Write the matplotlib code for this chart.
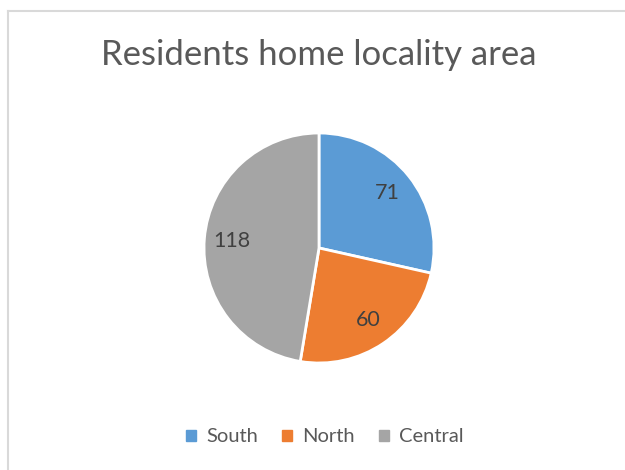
import numpy as np
import matplotlib.pyplot as plt
from matplotlib.lines import Line2D

regions = ['South', 'North', 'Central']
residents = [71, 60, 118]
colors = ['#5B9BD5', '#ED7D31', '#A5A5A5']

plt.rcParams['font.family'] = ['Lato', 'DejaVu Sans']

fig = plt.figure(figsize=(6.25, 4.7), dpi=100)
W, H = 625, 470

# chart frame (only left and top edges visible in the crop)
fig.add_artist(Line2D([8 / W, 8 / W], [0, 1 - 11 / H], color='#D9D9D9', lw=1.5))
fig.add_artist(Line2D([8 / W, 1], [1 - 11 / H, 1 - 11 / H], color='#D9D9D9', lw=1.5))

# pie: centre ~ (319, 248), radius ~ 115 px
cx, cy, r = 319, 248, 115
ax = fig.add_axes([(cx - r) / W, 1 - (cy + r) / H, 2 * r / W, 2 * r / H])
wedges, texts = ax.pie(residents, colors=colors, startangle=90, counterclock=False,
                       wedgeprops=dict(edgecolor='white', linewidth=2))
for w, v in zip(wedges, residents):
    ang = np.deg2rad((w.theta1 + w.theta2) / 2)
    ax.text(0.76 * np.cos(ang), 0.76 * np.sin(ang), str(v), ha='center', va='center',
            fontsize=15.5, color='#404040')
ax.set_xlim(-1.0, 1.0)
ax.set_ylim(-1.0, 1.0)
ax.set_aspect('equal')

fig.text(319 / W, 1 - 55 / H, 'Residents home locality area', ha='center', va='center',
         fontsize=25, color='#595959')

handles = [plt.Rectangle((0, 0), 1, 1, color=c) for c in colors]
fig.legend(handles, regions, loc='center', bbox_to_anchor=(325 / W, 1 - 437 / H), ncol=3,
           frameon=False, fontsize=14.5, handlelength=0.5, handleheight=0.5,
           handletextpad=0.5, columnspacing=1.2, labelcolor='#595959')

fig.savefig('out.png', dpi=100)
